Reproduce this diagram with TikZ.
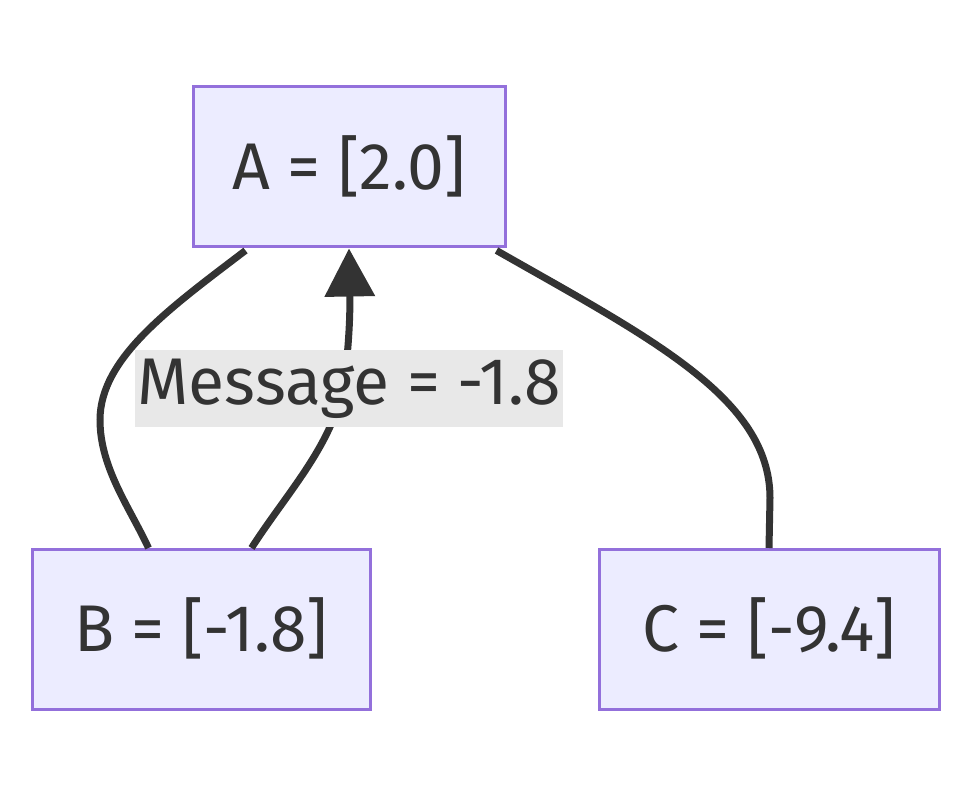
\documentclass[tikz,border=0pt]{standalone}
\usepackage{fontspec}
\setmainfont{Fira Sans}
\usetikzlibrary{arrows.meta,calc}
\definecolor{nodefill}{HTML}{ECECFF}
\definecolor{nodeborder}{HTML}{9370DB}
\definecolor{edgecol}{HTML}{333333}
\definecolor{labelfill}{HTML}{E8E8E8}
\newcommand{\up}[1]{\raisebox{9pt}{#1}}
\tikzset{
  box/.style={draw=nodeborder, fill=nodefill, line width=3pt, inner sep=0pt,
    minimum height=160pt, text=edgecol, font=\fontsize{66}{76}\selectfont},
  link/.style={draw=edgecol, line width=7pt},
  lbl/.style={fill=labelfill, inner sep=0pt, minimum width=428pt, minimum height=77pt,
    text=edgecol, font=\fontsize{66}{76}\selectfont},
}
\begin{document}
\begin{tikzpicture}[x=1pt,y=1pt]
\useasboundingbox (0,0) rectangle (972,798);
\node[box, minimum width=312pt] (A) at (349,631) {\up{A = [2.0]}};
\node[box, minimum width=338pt] (B) at (201,168.5) {\up{B = [-1.8]}};
\node[box, minimum width=340pt] (C) at (769,168.5) {\up{C = [-9.4]}};
\coordinate (a1) at ($(A.south west)+(54,-2)$);
\coordinate (b1) at ($(B.north west)+(118,0)$);
\coordinate (b2) at ($(B.north west)+(221,0)$);
\coordinate (a3) at ($(A.south east)+(-10,-2)$);
\coordinate (m1) at (100,378);
\coordinate (m2) at (346,430);
\coordinate (m3) at (770,300);
% A -- B
\draw[link] (a1) .. controls (170,490) and (100,440) .. (m1)
  .. controls (100,330) and (130,290) .. (b1);
% B -> A
\draw[link, -{Triangle[length=48pt,width=49pt]}] (b2) .. controls (290,310) and (340,360) .. (m2)
  .. controls (350,470) and (350,490) .. (A.south);
% A -- C
\draw[link] (a3) .. controls (650,460) and (770,400) .. (m3) -- (C.north);
\node[lbl] (L) at (349,409.5) {\raisebox{2pt}{Message = -1.8}};
\end{tikzpicture}
\end{document}
